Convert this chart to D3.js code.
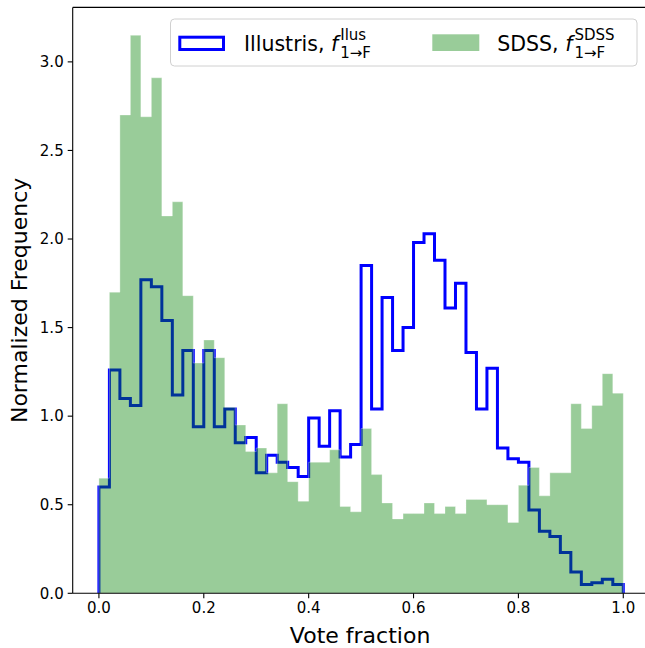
<!DOCTYPE html>
<html><head><meta charset="utf-8">
<script src="https://cdn.jsdelivr.net/npm/d3@7"></script>
<style>
body{margin:0;background:#fff;overflow:hidden}
svg{display:block}
text{font-family:"DejaVu Sans",sans-serif;fill:#000}
</style>
</head><body>
<svg id="c" width="645" height="648"></svg>
<script>
// ---- data ----
const binEdges = [0.00,0.02,0.04,0.06,0.08,0.10,0.12,0.14,0.16,0.18,0.20,0.22,0.24,0.26,0.28,0.30,0.32,0.34,0.36,0.38,0.40,0.42,0.44,0.46,0.48,0.50,0.52,0.54,0.56,0.58,0.60,0.62,0.64,0.66,0.68,0.70,0.72,0.74,0.76,0.78,0.80,0.82,0.84,0.86,0.88,0.90,0.92,0.94,0.96,0.98,1.00];
const illustris = [0.60,1.26,1.10,1.06,1.77,1.73,1.54,1.12,1.37,0.94,1.37,0.94,1.04,0.85,0.88,0.68,0.78,0.74,0.71,0.66,0.99,0.83,1.03,0.77,0.84,1.85,1.04,1.67,1.37,1.50,1.98,2.03,1.88,1.61,1.75,1.36,1.04,1.27,0.82,0.76,0.74,0.47,0.35,0.32,0.23,0.12,0.05,0.06,0.08,0.05];
const sdss = [0.65,1.70,2.70,3.15,2.69,2.91,2.13,2.21,1.68,1.30,1.43,1.33,1.05,0.95,0.80,0.82,0.68,1.07,0.63,0.52,0.74,0.74,0.81,0.49,0.46,0.93,0.67,0.51,0.42,0.45,0.45,0.51,0.45,0.49,0.45,0.53,0.53,0.50,0.50,0.40,0.61,0.71,0.55,0.68,0.68,1.07,0.93,1.06,1.24,1.13];
const xTicks = [0.0,0.2,0.4,0.6,0.8,1.0];
const yTicks = [0.0,0.5,1.0,1.5,2.0,2.5,3.0];
const xLabel = "Vote fraction";
const yLabel = "Normalized Frequency";
const legendItems = [
  {name:"Illustris, ", sup:"Ilus", sub:"1\u2192F"},
  {name:"SDSS, ", sup:"SDSS", sub:"1\u2192F"}
];

// ---- layout ----
const L = 72.7, R = 649.5, T = 7.4, B = 593.3;
const svg = d3.select("#c");
const x = d3.scaleLinear().domain([-0.05, 1.05]).range([L, R]);
const y = d3.scaleLinear().domain([0, 3.3075]).range([B, T]);

svg.append("defs").append("clipPath").attr("id","clip")
  .append("rect").attr("x",L).attr("y",T).attr("width",R-L).attr("height",B-T);

function stepPoints(vals){
  const pts = [[binEdges[0],0]];
  vals.forEach((v,i)=>pts.push([binEdges[i],v]));
  pts.push([binEdges[binEdges.length-1], vals[vals.length-1]]);
  pts.push([binEdges[binEdges.length-1], 0]);
  return pts;
}
const line = d3.line().x(d=>x(d[0])).y(d=>y(d[1])).curve(d3.curveStepAfter);

const g = svg.append("g").attr("clip-path","url(#clip)");
// Illustris step outline (drawn first; green overlays it)
g.append("path").attr("d", line(stepPoints(illustris)))
  .attr("fill","none").attr("stroke","#0000ff").attr("stroke-width",3)
  .attr("stroke-linejoin","miter");
// SDSS stepfilled
const gp = stepPoints(sdss);
g.append("path").attr("d", line(gp)+"Z")
  .attr("fill","rgb(0,128,0)").attr("fill-opacity",0.4)
  .attr("stroke","#ffffff").attr("stroke-opacity",0.3).attr("stroke-width",1);

// ---- axes ----
const ax = svg.append("g");
ax.append("line").attr("x1",L).attr("x2",L).attr("y1",T).attr("y2",B).attr("stroke","#000").attr("stroke-width",1.1);
ax.append("line").attr("x1",L).attr("x2",R).attr("y1",B).attr("y2",B).attr("stroke","#000").attr("stroke-width",1.1);
ax.append("line").attr("x1",L).attr("x2",R).attr("y1",T).attr("y2",T).attr("stroke","#000").attr("stroke-width",1.1);

const fmt = d3.format(".1f");
xTicks.forEach(t=>{
  ax.append("line").attr("x1",x(t)).attr("x2",x(t)).attr("y1",B).attr("y2",B+5).attr("stroke","#000").attr("stroke-width",1.1);
  ax.append("text").attr("x",x(t)).attr("y",B+20).attr("text-anchor","middle")
    .style("font-size","15px").text(fmt(t));
});
yTicks.forEach(t=>{
  ax.append("line").attr("x1",L-5).attr("x2",L).attr("y1",y(t)).attr("y2",y(t)).attr("stroke","#000").attr("stroke-width",1.1);
  ax.append("text").attr("x",L-9).attr("y",y(t)+5.3).attr("text-anchor","end")
    .style("font-size","15px").text(fmt(t));
});
svg.append("text").attr("x",(L+R)/2 - 1).attr("y",643).attr("text-anchor","middle")
  .style("font-size","22px").text(xLabel);
svg.append("text").attr("transform",`translate(26.5,${(T+B)/2}) rotate(-90)`).attr("text-anchor","middle")
  .style("font-size","22px").text(yLabel);

// ---- legend ----
const lg = svg.append("g");
lg.append("rect").attr("x",170.5).attr("y",19).attr("width",466.5).attr("height",47).attr("rx",4)
  .attr("fill","#fff").attr("fill-opacity",0.8).attr("stroke","#d0d0d0").attr("stroke-width",1);
lg.append("rect").attr("x",179.8).attr("y",37.2).attr("width",43.7).attr("height",12.3)
  .attr("fill","none").attr("stroke","#0000ff").attr("stroke-width",3);
lg.append("rect").attr("x",432.3).attr("y",34.3).attr("width",47).attr("height",16.7)
  .attr("fill","rgb(0,128,0)").attr("fill-opacity",0.4);

const textStarts = [244, 497.3];
legendItems.forEach((it,i)=>{
  const base = 51;
  const t1 = lg.append("text").attr("x",textStarts[i]).attr("y",base).style("font-size","20.5px")
    .attr("xml:space","preserve").text(it.name);
  const w1 = t1.node().getComputedTextLength();
  const fx = textStarts[i] + w1;
  const tf = lg.append("text").attr("x",fx).attr("y",base).style("font-size","20.5px").style("font-style","italic").text("f");
  const wf = tf.node().getComputedTextLength();
  const sx = fx + wf + 2;
  lg.append("text").attr("x",sx).attr("y",base-11.5).style("font-size","15px").text(it.sup);
  lg.append("text").attr("x",sx).attr("y",base+7).style("font-size","15px").text(it.sub);
});
</script>
</body></html>
